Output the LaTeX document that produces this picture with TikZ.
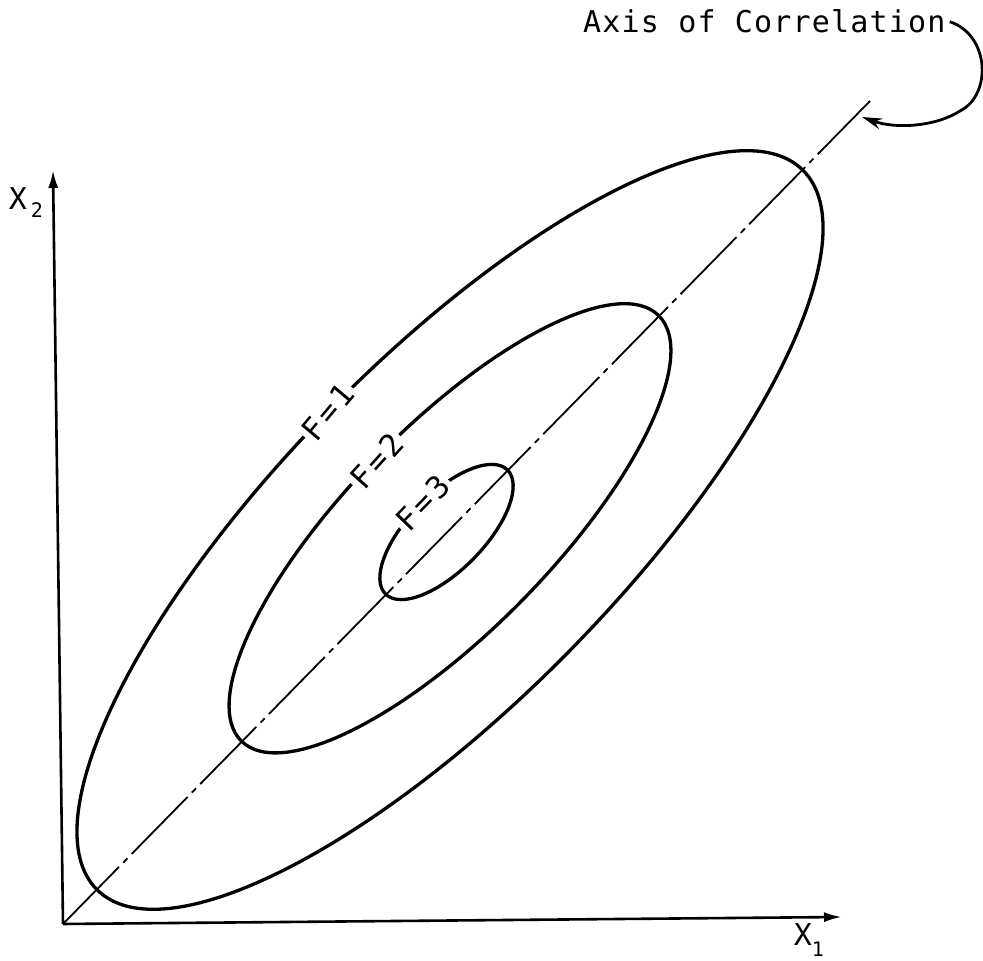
\documentclass[tikz,border=0pt]{standalone}
\usepackage{fontspec}
\newfontfamily\lbl[LetterSpace=4]{DejaVu Sans Mono}
\newfontfamily\flbl[LetterSpace=10]{DejaVu Sans Mono}
\usetikzlibrary{arrows.meta}
\begin{document}
\begin{tikzpicture}[x=1pt,y=1pt,
  curve/.style={line width=3.3pt},
  axisline/.style={line width=2.6pt, -{Latex[length=18pt,width=10pt]}},
  corr/.style={line width=1.8pt, dash pattern=on 80pt off 6pt on 6pt off 6pt},
  flabel/.style={font=\flbl\fontsize{31}{31}\selectfont, fill=white, inner sep=3pt},
  txt/.style={font=\lbl\fontsize{30}{30}\selectfont, inner sep=0pt},
  subtxt/.style={font=\lbl\fontsize{20}{20}\selectfont, inner sep=0pt}]
\useasboundingbox (0,0) rectangle (983,961);
% axes and axis of correlation
\coordinate (O) at (63,37);
\coordinate (xend) at (842,44);
\coordinate (yend) at (53,791);
\coordinate (cend) at (870,860);
\draw[corr] (O) -- (cend);
\draw[axisline] (O) -- (xend);
\draw[axisline] (O) -- (yend);
% ellipses
\draw[curve, rotate around={45.6:(450,431)}] (450,431) ellipse [x radius=504, y radius=170];
\draw[curve, rotate around={45.6:(450,432.7)}] (450,432.7) ellipse [x radius=298, y radius=102];
\draw[curve, rotate around={45.6:(446.5,429)}] (446.5,429) ellipse [x radius=87, y radius=38];
% F labels
\node[flabel, rotate=50] (f1) at (328,549) {F=1};
\node[flabel, rotate=48] (f2) at (377,500) {F=2};
\node[flabel, rotate=46] (f3) at (423,458) {F=3};
% axis labels
\node[txt] (x1) at (803,26) {X};
\node[subtxt] (x1s) at (818,12) {1};
\node[txt] (x2) at (18,762) {X};
\node[subtxt] (x2s) at (37,751) {2};
% axis of correlation label and arrow
\node[txt, anchor=base west] (axl) at (583,928) {Axis of Correlation};
\coordinate (atip) at (862,844);
\draw[line width=2.8pt, -{Stealth[length=20pt,width=11pt]}]
  ([xshift=4pt]axl.east) .. controls (990,926) and (992,866) .. (960,850)
  .. controls (935,834) and (895,832) .. (atip);
\end{tikzpicture}
\end{document}
